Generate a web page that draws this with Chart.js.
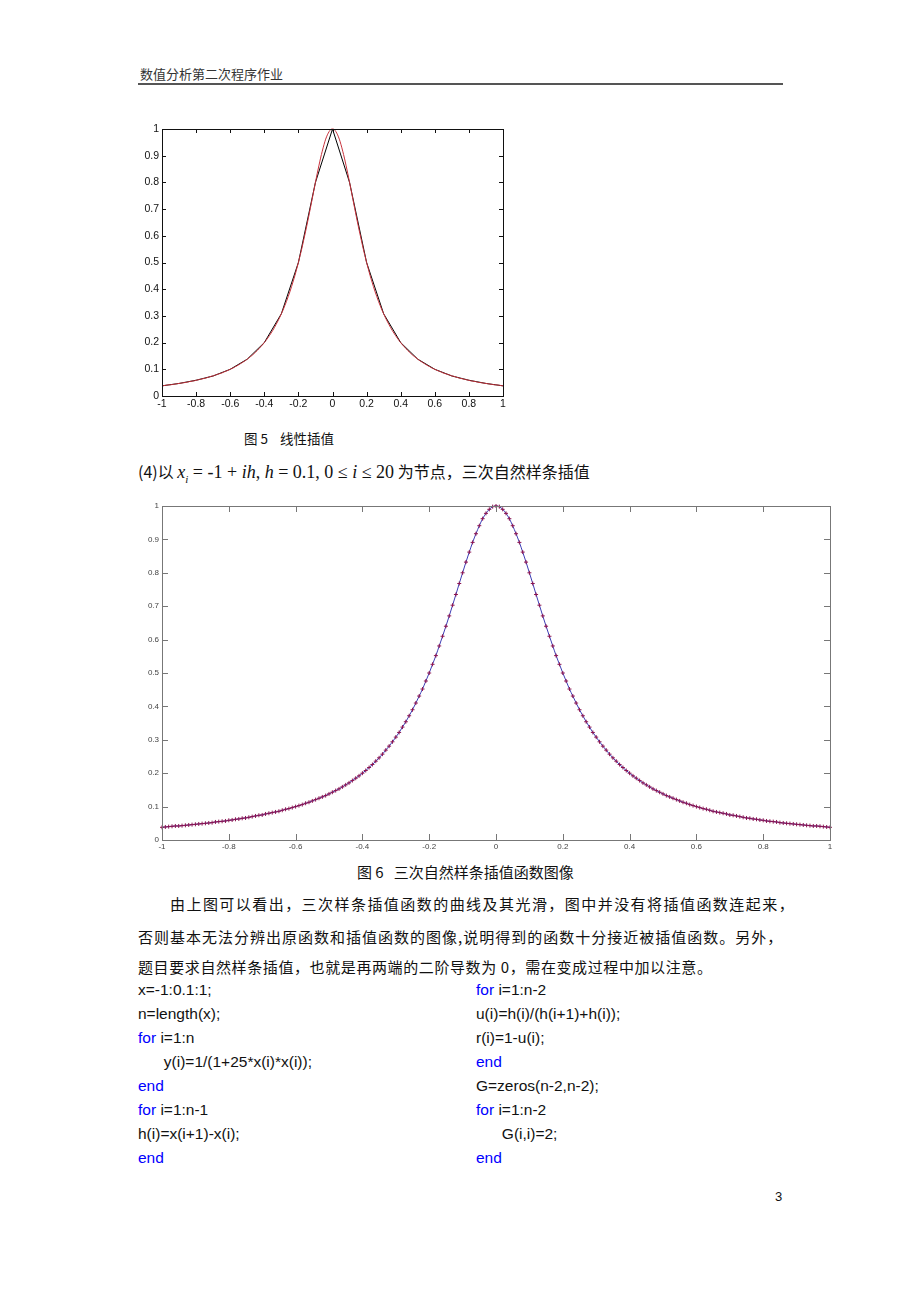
<!DOCTYPE html>
<html>
<head>
<meta charset="utf-8">
<script src="https://cdn.jsdelivr.net/npm/chart.js@4.4.1/dist/chart.umd.min.js"></script>
<style>
  body { margin: 0; background: #fff; }
  #page { position: relative; width: 920px; height: 1302px; background: #fff; overflow: hidden; }
  .t { position: absolute; white-space: nowrap; font-family: "Noto Sans CJK SC", sans-serif; color: #111; }
  .code { position: absolute; white-space: pre; font-family: "Liberation Sans", Arial, sans-serif; font-size: 15.5px; color: #111; }
  .kw { color: #0000ff; }
  .m { font-family: "Liberation Serif", "DejaVu Serif", serif; font-size: 18px; }
  canvas { position: absolute; }
</style>
</head>
<body>
<div id="page">
  <div class="t" style="left:140px;top:64px;font-size:13px;color:#333;">数值分析第二次程序作业</div>
  <div style="position:absolute;left:138px;top:83px;width:645px;height:2px;background:#555;"></div>

  <canvas id="chart1" width="390" height="300" style="left:130px;top:115px;"></canvas>

  <div class="t" style="left:244px;top:428px;font-size:13.5px;">图 5&nbsp;&nbsp;&nbsp;&nbsp;线性插值</div>

  <div class="t" style="left:138px;top:459px;font-size:16px;">(4)以 <span class="m"><i>x</i><sub style="font-size:11px"><i>i</i></sub> = -1 + <i>ih</i>, <i>h</i> = 0.1, 0 ≤ <i>i</i> ≤ 20</span> 为节点，三次自然样条插值</div>

  <canvas id="chart2" width="720" height="365" style="left:130px;top:495px;"></canvas>

  <div class="t" style="left:357px;top:861px;font-size:15px;">图 6&nbsp;&nbsp;&nbsp;三次自然样条插值函数图像</div>

  <div class="t" style="left:170px;top:893px;font-size:15px;letter-spacing:1.45px;">由上图可以看出，三次样条插值函数的曲线及其光滑，图中并没有将插值函数连起来，</div>
  <div class="t" style="left:138px;top:926px;font-size:15px;letter-spacing:1.0px;">否则基本无法分辨出原函数和插值函数的图像,说明得到的函数十分接近被插值函数。另外，</div>
  <div class="t" style="left:138px;top:956px;font-size:15px;letter-spacing:0.6px;">题目要求自然样条插值，也就是再两端的二阶导数为 0，需在变成过程中加以注意。</div>

  <div class="code" style="left:138px;top:978px;line-height:24px;">x=-1:0.1:1;
n=length(x);
<span class="kw">for</span> i=1:n
      y(i)=1/(1+25*x(i)*x(i));
<span class="kw">end</span>
<span class="kw">for</span> i=1:n-1
h(i)=x(i+1)-x(i);
<span class="kw">end</span></div>
  <div class="code" style="left:476px;top:978px;line-height:24px;"><span class="kw">for</span> i=1:n-2
u(i)=h(i)/(h(i+1)+h(i));
r(i)=1-u(i);
<span class="kw">end</span>
G=zeros(n-2,n-2);
<span class="kw">for</span> i=1:n-2
      G(i,i)=2;
<span class="kw">end</span></div>

  <div class="t" style="left:775px;top:1189px;font-size:13px;font-family:'Liberation Sans',sans-serif;">3</div>
</div>

<script>
// tick labels
const xTicks = [-1, -0.8, -0.6, -0.4, -0.2, 0, 0.2, 0.4, 0.6, 0.8, 1];
const yTicks = [0, 0.1, 0.2, 0.3, 0.4, 0.5, 0.6, 0.7, 0.8, 0.9, 1];

// nodes x = -1:0.1:1 (linear interpolation, fig 5)
const nodeX = [-1, -0.9, -0.8, -0.7, -0.6, -0.5, -0.4, -0.3, -0.2, -0.1, 0,
               0.1, 0.2, 0.3, 0.4, 0.5, 0.6, 0.7, 0.8, 0.9, 1];
const nodeY = [0.038, 0.047, 0.059, 0.075, 0.100, 0.138, 0.200, 0.308, 0.500, 0.800, 1,
               0.800, 0.500, 0.308, 0.200, 0.138, 0.100, 0.075, 0.059, 0.047, 0.038];

// fine points, step 0.01 (original function / spline markers)
const fineX = [-1, -0.99, -0.98, -0.97, -0.96, -0.95, -0.94, -0.93, -0.92, -0.91,
               -0.9, -0.89, -0.88, -0.87, -0.86, -0.85, -0.84, -0.83, -0.82, -0.81,
               -0.8, -0.79, -0.78, -0.77, -0.76, -0.75, -0.74, -0.73, -0.72, -0.71,
               -0.7, -0.69, -0.68, -0.67, -0.66, -0.65, -0.64, -0.63, -0.62, -0.61,
               -0.6, -0.59, -0.58, -0.57, -0.56, -0.55, -0.54, -0.53, -0.52, -0.51,
               -0.5, -0.49, -0.48, -0.47, -0.46, -0.45, -0.44, -0.43, -0.42, -0.41,
               -0.4, -0.39, -0.38, -0.37, -0.36, -0.35, -0.34, -0.33, -0.32, -0.31,
               -0.3, -0.29, -0.28, -0.27, -0.26, -0.25, -0.24, -0.23, -0.22, -0.21,
               -0.2, -0.19, -0.18, -0.17, -0.16, -0.15, -0.14, -0.13, -0.12, -0.11,
               -0.1, -0.09, -0.08, -0.07, -0.06, -0.05, -0.04, -0.03, -0.02, -0.01,
               0,
               0.01, 0.02, 0.03, 0.04, 0.05, 0.06, 0.07, 0.08, 0.09, 0.1,
               0.11, 0.12, 0.13, 0.14, 0.15, 0.16, 0.17, 0.18, 0.19, 0.2,
               0.21, 0.22, 0.23, 0.24, 0.25, 0.26, 0.27, 0.28, 0.29, 0.3,
               0.31, 0.32, 0.33, 0.34, 0.35, 0.36, 0.37, 0.38, 0.39, 0.4,
               0.41, 0.42, 0.43, 0.44, 0.45, 0.46, 0.47, 0.48, 0.49, 0.5,
               0.51, 0.52, 0.53, 0.54, 0.55, 0.56, 0.57, 0.58, 0.59, 0.6,
               0.61, 0.62, 0.63, 0.64, 0.65, 0.66, 0.67, 0.68, 0.69, 0.7,
               0.71, 0.72, 0.73, 0.74, 0.75, 0.76, 0.77, 0.78, 0.79, 0.8,
               0.81, 0.82, 0.83, 0.84, 0.85, 0.86, 0.87, 0.88, 0.89, 0.9,
               0.91, 0.92, 0.93, 0.94, 0.95, 0.96, 0.97, 0.98, 0.99, 1];
const fineY = [0.038, 0.039, 0.040, 0.041, 0.042, 0.042, 0.043, 0.044, 0.045, 0.046,
               0.047, 0.048, 0.049, 0.050, 0.051, 0.052, 0.054, 0.055, 0.056, 0.057,
               0.059, 0.060, 0.062, 0.063, 0.065, 0.066, 0.068, 0.070, 0.072, 0.074,
               0.075, 0.078, 0.080, 0.082, 0.084, 0.086, 0.089, 0.092, 0.094, 0.097,
               0.100, 0.103, 0.106, 0.110, 0.113, 0.117, 0.121, 0.125, 0.129, 0.133,
               0.138, 0.143, 0.148, 0.153, 0.159, 0.165, 0.171, 0.178, 0.185, 0.192,
               0.200, 0.208, 0.217, 0.226, 0.236, 0.246, 0.257, 0.269, 0.281, 0.294,
               0.308, 0.322, 0.338, 0.354, 0.372, 0.390, 0.410, 0.431, 0.452, 0.476,
               0.500, 0.526, 0.552, 0.581, 0.610, 0.640, 0.671, 0.703, 0.735, 0.768,
               0.800, 0.832, 0.862, 0.891, 0.917, 0.941, 0.962, 0.978, 0.990, 0.998,
               1,
               0.998, 0.990, 0.978, 0.962, 0.941, 0.917, 0.891, 0.862, 0.832, 0.800,
               0.768, 0.735, 0.703, 0.671, 0.640, 0.610, 0.581, 0.552, 0.526, 0.500,
               0.476, 0.452, 0.431, 0.410, 0.390, 0.372, 0.354, 0.338, 0.322, 0.308,
               0.294, 0.281, 0.269, 0.257, 0.246, 0.236, 0.226, 0.217, 0.208, 0.200,
               0.192, 0.185, 0.178, 0.171, 0.165, 0.159, 0.153, 0.148, 0.143, 0.138,
               0.133, 0.129, 0.125, 0.121, 0.117, 0.113, 0.110, 0.106, 0.103, 0.100,
               0.097, 0.094, 0.092, 0.089, 0.086, 0.084, 0.082, 0.080, 0.078, 0.075,
               0.074, 0.072, 0.070, 0.068, 0.066, 0.065, 0.063, 0.062, 0.060, 0.059,
               0.057, 0.056, 0.055, 0.054, 0.052, 0.051, 0.050, 0.049, 0.048, 0.047,
               0.046, 0.045, 0.044, 0.043, 0.042, 0.042, 0.041, 0.040, 0.039, 0.038];

const nodePts = nodeX.map((x, i) => ({ x: x, y: nodeY[i] }));
const finePts = fineX.map((x, i) => ({ x: x, y: fineY[i] }));

// matlab style box with inward ticks
const matlabFrame = {
    id: 'matlabFrame',
    afterDatasetsDraw(chart, args, opts) {
        const ctx = chart.ctx;
        const a = chart.chartArea;
        const sx = chart.scales.x, sy = chart.scales.y;
        const len = opts.len;
        ctx.save();
        ctx.strokeStyle = opts.color;
        ctx.lineWidth = 1;
        ctx.beginPath();
        sx.ticks.forEach(function (t) {
            let px = Math.round(sx.getPixelForValue(t.value)) + 0.5;
            ctx.moveTo(px, a.bottom); ctx.lineTo(px, a.bottom - len);
            ctx.moveTo(px, a.top); ctx.lineTo(px, a.top + len);
        });
        sy.ticks.forEach(function (t) {
            let py = Math.round(sy.getPixelForValue(t.value)) + 0.5;
            ctx.moveTo(a.left, py); ctx.lineTo(a.left + len, py);
            ctx.moveTo(a.right, py); ctx.lineTo(a.right - len, py);
        });
        ctx.stroke();
        ctx.strokeRect(Math.round(a.left) + 0.5, Math.round(a.top) + 0.5,
                       Math.round(a.right - a.left), Math.round(a.bottom - a.top));
        ctx.restore();
    }
};

function fmt(v) {
    return String(+Number(v).toFixed(1));
}

function makeScales(fontSize, color, yWidth, xHeight) {
    return {
        x: {
            type: 'linear', min: -1, max: 1,
            afterBuildTicks: s => { s.ticks = xTicks.map(v => ({ value: v })); },
            afterFit: s => { s.height = xHeight; },
            grid: { display: false, drawTicks: false, tickLength: 0 },
            border: { display: false },
            ticks: { padding: 2, color: color, font: { family: 'Liberation Sans', size: fontSize }, callback: fmt, maxRotation: 0, autoSkip: false }
        },
        y: {
            type: 'linear', min: 0, max: 1,
            afterBuildTicks: s => { s.ticks = yTicks.map(v => ({ value: v })); },
            afterFit: s => { s.width = yWidth; },
            grid: { display: false, drawTicks: false, tickLength: 0 },
            border: { display: false },
            ticks: { padding: 3, color: color, font: { family: 'Liberation Sans', size: fontSize }, callback: fmt, autoSkip: false }
        }
    };
}

// 图5 线性插值
new Chart('chart1', {
    type: 'line',
    data: {
        datasets: [{
            label: 'original',
            data: finePts,
            borderColor: '#c8323c',
            borderWidth: 1,
            pointRadius: 0,
            cubicInterpolationMode: 'monotone',
            order: 0,
            clip: 3
        }, {
            label: 'linear',
            data: nodePts,
            borderColor: '#000000',
            borderWidth: 1,
            pointRadius: 0,
            tension: 0,
            order: 1,
            clip: 3
        }]
    },
    options: {
        responsive: false,
        animation: false,
        devicePixelRatio: 1,
        layout: { padding: { left: 0, right: 17, top: 14, bottom: 0 } },
        plugins: { legend: { display: false }, tooltip: { enabled: false }, matlabFrame: { len: 4, color: '#111' } },
        scales: makeScales(10.5, '#111', 32, 19)
    },
    plugins: [matlabFrame]
});

// 图6 三次自然样条插值
new Chart('chart2', {
    type: 'line',
    data: {
        datasets: [{
            label: 'spline',
            data: finePts,
            showLine: false,
            pointStyle: 'cross',
            pointRadius: 2,
            pointBorderWidth: 1,
            pointBorderColor: '#8c1450',
            order: 0,
            clip: 3
        }, {
            label: 'original',
            data: finePts,
            borderColor: '#3c3cb4',
            borderWidth: 1,
            pointRadius: 0,
            cubicInterpolationMode: 'monotone',
            order: 1,
            clip: 3
        }]
    },
    options: {
        responsive: false,
        animation: false,
        devicePixelRatio: 1,
        layout: { padding: { left: 0, right: 20, top: 11, bottom: 0 } },
        plugins: { legend: { display: false }, tooltip: { enabled: false }, matlabFrame: { len: 6, color: '#777' } },
        scales: makeScales(8, '#444', 32, 20)
    },
    plugins: [matlabFrame]
});
</script>
</body>
</html>
